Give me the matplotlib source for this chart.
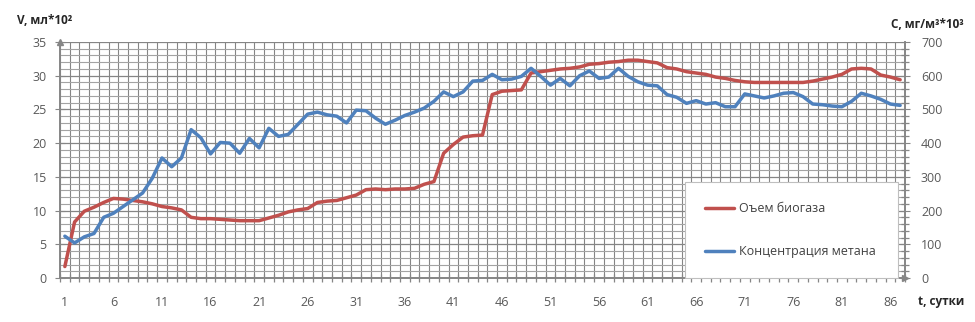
import matplotlib
matplotlib.use("Agg")
import matplotlib.pyplot as plt
from matplotlib.ticker import MultipleLocator, FixedLocator

plt.rcParams['font.family'] = ['Open Sans', 'DejaVu Sans']

# Data
days = list(range(1, 88))

biogas = [1.7, 8.3, 9.9, 10.5, 11.2, 11.8, 11.7, 11.5, 11.3, 11.0,
          10.6, 10.4, 10.1, 9.0, 8.8, 8.8, 8.7, 8.6, 8.5, 8.5,
          8.5, 8.9, 9.3, 9.8, 10.1, 10.3, 11.2, 11.4, 11.5, 11.9,
          12.3, 13.1, 13.2, 13.1, 13.2, 13.2, 13.3, 13.9, 14.3, 18.5,
          19.8, 20.9, 21.1, 21.2, 27.2, 27.7, 27.8, 27.9, 30.4, 30.6,
          30.8, 31.0, 31.1, 31.3, 31.7, 31.8, 32.0, 32.1, 32.3, 32.3,
          32.1, 31.9, 31.2, 31.0, 30.6, 30.4, 30.2, 29.8, 29.6, 29.3,
          29.1, 29.0, 29.0, 29.0, 29.0, 29.0, 29.0, 29.2, 29.5, 29.8,
          30.2, 31.0, 31.1, 31.0, 30.1, 29.8, 29.4]

methane = [124, 104, 122, 132, 180, 192, 212, 232, 252, 296,
           356, 330, 356, 440, 416, 368, 402, 400, 370, 414,
           386, 444, 420, 426, 456, 486, 492, 484, 480, 460,
           498, 496, 474, 456, 468, 482, 492, 504, 524, 552,
           538, 552, 584, 586, 604, 588, 590, 598, 622, 598,
           572, 592, 570, 600, 614, 592, 596, 622, 598, 582,
           572, 570, 544, 536, 518, 526, 516, 520, 508, 508,
           546, 540, 534, 540, 548, 550, 538, 516, 514, 510,
           508, 524, 548, 540, 530, 516, 512]

label_days = [1, 6, 11, 16, 21, 26, 31, 36, 41, 46, 51, 56, 61, 66, 71, 76, 81, 86]

red = "#C0504D"
blue = "#4F81BD"
grid_dark = "#858585"
grid_light = "#a3a3a3"
axis_col = "#868686"
txt = "#595959"

fig = plt.figure(figsize=(9.75, 3.22), dpi=100)
ax = fig.add_axes([60 / 975, 1 - 278 / 322, 845 / 975, 236 / 322])
ax2 = ax.twinx()

# volume on the left axis, concentration on the right
l1, = ax.plot(days, biogas, color=red, lw=2.5, solid_capstyle='round', zorder=4)
l2, = ax2.plot(days, methane, color=blue, lw=2.5, solid_capstyle='round', zorder=4)

ax.set_xlim(0.5, 87.5)
ax.set_ylim(0, 35)
ax2.set_ylim(0, 700)

ax.xaxis.set_major_locator(FixedLocator(label_days))
ax.xaxis.set_minor_locator(MultipleLocator(1, offset=0.5))
ax.set_xticklabels([str(d) for d in label_days])
ax.yaxis.set_major_locator(MultipleLocator(5))
ax.yaxis.set_minor_locator(MultipleLocator(1))
ax2.yaxis.set_major_locator(MultipleLocator(100))
ax2.yaxis.set_minor_locator(MultipleLocator(20))

ax.grid(which='major', axis='y', color=grid_dark, lw=0.9)
ax.grid(which='minor', axis='y', color=grid_light, lw=0.8)
ax.grid(which='minor', axis='x', color=grid_dark, lw=0.8)
ax.set_axisbelow(True)

ax.tick_params(axis='x', which='major', length=0, pad=13, labelsize=9, labelcolor=txt)
ax.tick_params(axis='x', which='minor', direction='inout', length=6, color=axis_col, width=0.9)
ax.tick_params(axis='y', which='major', direction='inout', length=7, color=axis_col,
               labelsize=9, labelcolor=txt, pad=6)
ax.tick_params(axis='y', which='minor', length=0)
ax2.tick_params(axis='y', which='major', direction='inout', length=7, color=axis_col,
                labelsize=9, labelcolor=txt, pad=8)
ax2.tick_params(axis='y', which='minor', direction='inout', length=6, color=axis_col, width=0.9)

for a in (ax, ax2):
    a.spines['top'].set_visible(False)
    for s in ('left', 'right', 'bottom'):
        a.spines[s].set_color(axis_col)
        a.spines[s].set_linewidth(1.2)
ax2.patch.set_visible(False)

# axis arrows
ax.plot([0], [1], marker='^', ms=5, color=axis_col, transform=ax.transAxes, clip_on=False)
ax.plot([1], [0], marker='>', ms=5, color=axis_col, transform=ax.transAxes, clip_on=False)

fig.text(17 / 975, 1 - 20 / 322, "V, мл*10²", fontsize=8.5, fontweight='bold',
         color="#262626", va='center', ha='left')
fig.text(964 / 975, 1 - 24 / 322, "С, мг/м³*10³", fontsize=8.5, fontweight='bold',
         color="#262626", va='center', ha='right')
fig.text(918 / 975, 1 - 302 / 322, "t, сутки", fontsize=8.5, fontweight='bold',
         color="#262626", va='center', ha='left')

leg = ax2.legend([l1, l2], ["Оъем биогаза", "Концентрация метана"],
                 loc='lower left', bbox_to_anchor=(0.74, 0.0, 0.252, 0.40),
                 mode='expand', fontsize=9, frameon=True, fancybox=False,
                 borderpad=1.6, labelspacing=2.4, handlelength=2.3,
                 handletextpad=0.4, borderaxespad=0)
leg.get_frame().set_edgecolor("#bfbfbf")
leg.get_frame().set_linewidth(0.8)
leg.get_frame().set_alpha(1)
for t in leg.get_texts():
    t.set_color("#404040")
leg.set_zorder(10)

fig.savefig("out.png", dpi=100, facecolor='white')
